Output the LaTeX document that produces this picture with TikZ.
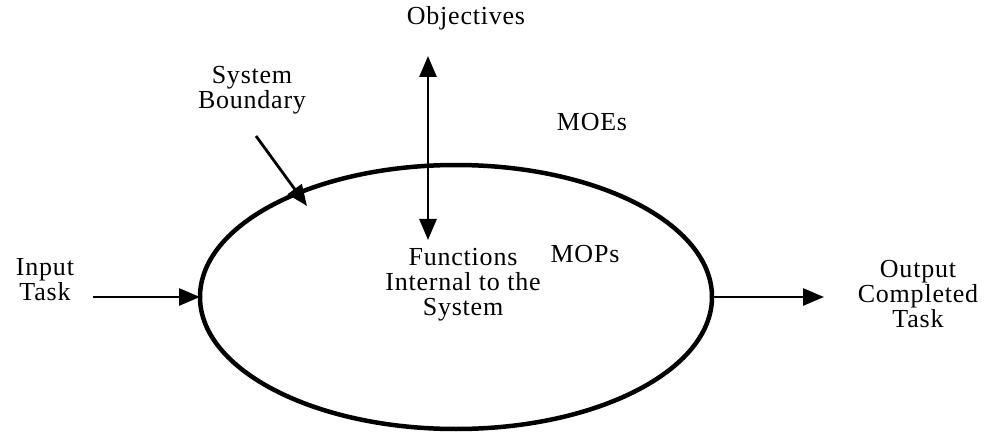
\documentclass[tikz,border=0pt]{standalone}
\usepackage{fontspec}
\setmainfont{Liberation Serif}[LetterSpace=3]
\usetikzlibrary{arrows.meta}
\begin{document}
\begin{tikzpicture}[x=1pt,y=-1pt,
  lbl/.style={font=\fontsize{26}{25}\selectfont, align=center, inner sep=0pt},
  tip/.style={-{Triangle[length=21pt,width=17pt]}},
  arr/.style={line width=2.8pt, tip},
  darr/.style={line width=2.8pt, {Triangle[length=21pt,width=17pt]}-{Triangle[length=21pt,width=17pt]}}]
\useasboundingbox (0,0) rectangle (989,433);
% system boundary
\draw[line width=4.5pt] (456,297) ellipse [x radius=256, y radius=132];
\node[lbl] (func) at (463,285) {Functions\\Internal to the\\System};
\coordinate (west) at (200,297);
\coordinate (east) at (713,297);
\coordinate (bnd) at (307,206);
% labels
\node[lbl] (obj) at (466,18) {Objectives};
\node[lbl] (moe) at (592,122) {MOEs};
\node[lbl] (mop) at (585,254) {MOPs};
\node[lbl] (sb) at (252,90) {System\\Boundary};
\node[lbl] (in) at (45,280) {Input\\Task};
\node[lbl] (out) at (918,294) {Output\\Completed\\Task};
% connectors
\coordinate (objtip) at (428,56);
\coordinate (objbot) at (428,240);
\draw[darr] (objtip) -- (objbot);
\draw[arr] (93,297) -- (west);
\draw[arr] (east) -- (824,297);
\draw[arr] (256,136) -- (bnd);
\end{tikzpicture}
\end{document}
